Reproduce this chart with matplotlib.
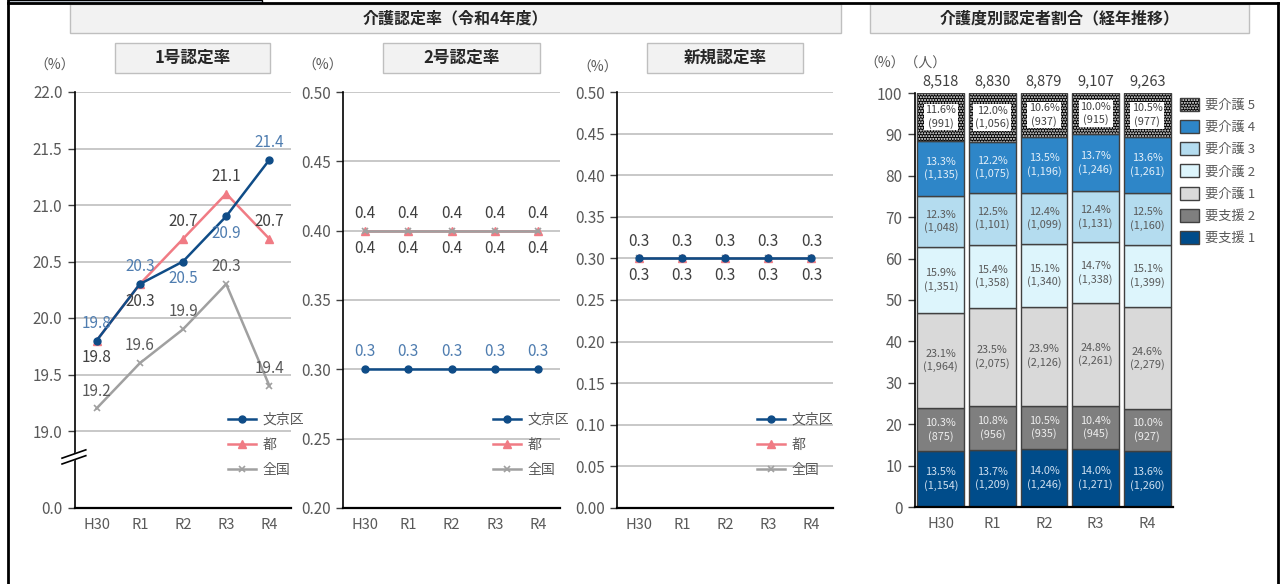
import matplotlib
matplotlib.use('Agg')
import matplotlib.pyplot as plt
from matplotlib.patches import Rectangle, Patch
from matplotlib.lines import Line2D
from matplotlib.ticker import FixedLocator, FixedFormatter, MultipleLocator, FormatStrFormatter

plt.rcParams['font.family'] = ['Noto Sans CJK JP', 'DejaVu Sans']

# ---------------- data ----------------
years = ['H30', 'R1', 'R2', 'R3', 'R4']
series_names = ['文京区', '都', '全国']

rate1_bunkyo = [19.8, 20.3, 20.5, 20.9, 21.4]
rate1_tokyo = [19.8, 20.3, 20.7, 21.1, 20.7]
rate1_japan = [19.2, 19.6, 19.9, 20.3, 19.4]

rate2_bunkyo = [0.3, 0.3, 0.3, 0.3, 0.3]
rate2_tokyo = [0.4, 0.4, 0.4, 0.4, 0.4]
rate2_japan = [0.4, 0.4, 0.4, 0.4, 0.4]

new_bunkyo = [0.3, 0.3, 0.3, 0.3, 0.3]
new_tokyo = [0.3, 0.3, 0.3, 0.3, 0.3]
new_japan = [0.3, 0.3, 0.3, 0.3, 0.3]

y1_ticks = [19.0, 19.5, 20.0, 20.5, 21.0, 21.5, 22.0]

levels = ['要支援 1', '要支援 2', '要介護 1', '要介護 2', '要介護 3', '要介護 4', '要介護 5']
pct_shien1 = [13.5, 13.7, 14.0, 14.0, 13.6]
pct_shien2 = [10.3, 10.8, 10.5, 10.4, 10.0]
pct_kaigo1 = [23.1, 23.5, 23.9, 24.8, 24.6]
pct_kaigo2 = [15.9, 15.4, 15.1, 14.7, 15.1]
pct_kaigo3 = [12.3, 12.5, 12.4, 12.4, 12.5]
pct_kaigo4 = [13.3, 12.2, 13.5, 13.7, 13.6]
pct_kaigo5 = [11.6, 12.0, 10.6, 10.0, 10.5]

cnt_shien1 = [1154, 1209, 1246, 1271, 1260]
cnt_shien2 = [875, 956, 935, 945, 927]
cnt_kaigo1 = [1964, 2075, 2126, 2261, 2279]
cnt_kaigo2 = [1351, 1358, 1340, 1338, 1399]
cnt_kaigo3 = [1048, 1101, 1099, 1131, 1160]
cnt_kaigo4 = [1135, 1075, 1196, 1246, 1261]
cnt_kaigo5 = [991, 1056, 937, 915, 977]

totals = [8518, 8830, 8879, 9107, 9263]

# ---------------- styles ----------------
W, H = 1282, 584
fig = plt.figure(figsize=(W / 100, H / 100), dpi=100)
fig.patch.set_facecolor('white')

TXT = '#595959'
DARK = '#404040'
BLUE = '#0F4C87'
PINK = '#F07B84'
GREY = '#A0A0A0'
BLUE_LBL = '#4F7DB0'


def fx(x):
    return x / W


def fy(y):
    return 1 - y / H


def add_axes_px(l, r, t, b):
    return fig.add_axes([fx(l), fy(b), (r - l) / W, (b - t) / H])


def box_px(x0, x1, y0, y1, text, fs=11.5):
    fig.add_artist(Rectangle((fx(x0), fy(y1)), (x1 - x0) / W, (y1 - y0) / H,
                             transform=fig.transFigure, facecolor='#F2F2F2',
                             edgecolor='#BFBFBF', lw=1))
    fig.text(fx((x0 + x1) / 2), fy((y0 + y1) / 2), text, ha='center', va='center',
             fontsize=fs, fontweight='bold', color='#262626')


# frame
fig.add_artist(Line2D([fx(8), fx(8)], [0, 1], color='black', lw=2, transform=fig.transFigure))
fig.add_artist(Line2D([fx(1278), fx(1278)], [0, fy(3)], color='black', lw=2, transform=fig.transFigure))
fig.add_artist(Line2D([fx(8), fx(1278)], [fy(3), fy(3)], color='black', lw=2, transform=fig.transFigure))
fig.add_artist(Rectangle((fx(8), fy(3)), fx(254), 3 / H, transform=fig.transFigure,
                         facecolor='#DCE6F2', edgecolor='black', lw=1))

box_px(70, 841, 4, 33, '介護認定率（令和4年度）')
box_px(870, 1249, 4, 33, '介護度別認定者割合（経年推移）')
box_px(115, 270, 43, 73, '1号認定率', fs=12)
box_px(383, 540, 43, 73, '2号認定率', fs=12)
box_px(647, 803, 43, 73, '新規認定率', fs=12)

for (x, y, t) in [(55, 66, '（%）'), (323, 66, '（%）'), (598, 68, '（%）'), (905, 64, '（%）（人）')]:
    fig.text(fx(x), fy(y), t, ha='center', va='center', fontsize=10, color=TXT)


def style_line_ax(ax):
    for s in ['top', 'right']:
        ax.spines[s].set_visible(False)
    ax.spines['left'].set_color('black')
    ax.spines['left'].set_linewidth(1.2)
    ax.spines['bottom'].set_color('black')
    ax.spines['bottom'].set_linewidth(1.6)
    ax.set_xlim(-0.5, 4.5)
    ax.set_xticks(range(len(years)))
    ax.set_xticklabels(years)
    ax.tick_params(axis='x', length=0, pad=7, labelsize=10.5, labelcolor=TXT)
    ax.tick_params(axis='y', length=5, width=1, color=DARK, labelsize=11, labelcolor=TXT, pad=4)
    ax.yaxis.grid(True, color='#BFBFBF', lw=1.2)
    ax.set_axisbelow(True)


def plot_series(ax, b, t, j):
    x = list(range(len(years)))
    lb, = ax.plot(x, b, color=BLUE, lw=1.8, marker='o', ms=5, label=series_names[0], zorder=4)
    lt, = ax.plot(x, t, color=PINK, lw=1.8, marker='^', ms=6, label=series_names[1], zorder=3)
    lj, = ax.plot(x, j, color=GREY, lw=1.8, marker='x', ms=5, mew=1.2, label=series_names[2], zorder=3)
    return [lb, lt, lj]


def label(ax, x, y, txt, color, up=True, off=12.5):
    ax.annotate(txt, (x, y), xytext=(0, off if up else -off), textcoords='offset points',
                ha='center', va='center', fontsize=11, color=color, zorder=6)


def add_legend(ax, handles, ax_x, ax_y):
    ax.legend(handles=handles, loc='upper left', bbox_to_anchor=(ax_x, ax_y), frameon=False,
              fontsize=10, labelcolor=TXT, handlelength=2.0, handletextpad=0.5,
              borderpad=0, borderaxespad=0, labelspacing=0.8)


# ---------------- chart 1 ----------------
ax1 = add_axes_px(75, 291, 92, 508)
style_line_ax(ax1)
ybot = 19.0 - (508 - 431) / (431 - 92) * 3.0
ax1.set_ylim(ybot, 22.0)
ax1.yaxis.set_major_locator(FixedLocator([ybot] + y1_ticks))
ax1.yaxis.set_major_formatter(FixedFormatter(['0.0'] + ['%.1f' % v for v in y1_ticks]))
h1 = plot_series(ax1, rate1_bunkyo, rate1_tokyo, rate1_japan)
b_up = [True, True, False, False, True]
t_up = [False, False, True, True, True]
for i in range(5):
    label(ax1, i, rate1_bunkyo[i], '%.1f' % rate1_bunkyo[i], BLUE_LBL, b_up[i])
    label(ax1, i, rate1_tokyo[i], '%.1f' % rate1_tokyo[i], DARK, t_up[i])
    label(ax1, i, rate1_japan[i], '%.1f' % rate1_japan[i], TXT, True)
add_legend(ax1, h1, (228 - 75) / 216, (508 - 413) / 416)
# axis break mark
yb = (508 - 459) / 416
ax1.fill([-0.06, 0.05, 0.05, -0.06], [yb - 0.012, yb + 0.008, yb + 0.022, yb + 0.002],
         transform=ax1.transAxes, color='white', clip_on=False, zorder=5)
for d in (0.0, 0.014):
    ax1.plot([-0.06, 0.05], [yb - 0.012 + d, yb + 0.008 + d], color='black', lw=1.2,
             transform=ax1.transAxes, clip_on=False, zorder=6)

# ---------------- chart 2 ----------------
ax2 = add_axes_px(343, 560, 92, 508)
style_line_ax(ax2)
ax2.set_ylim(0.20, 0.50)
ax2.yaxis.set_major_locator(MultipleLocator(0.05))
ax2.yaxis.set_major_formatter(FormatStrFormatter('%.2f'))
h2 = plot_series(ax2, rate2_bunkyo, rate2_tokyo, rate2_japan)
for i in range(5):
    label(ax2, i, rate2_bunkyo[i], '%.1f' % rate2_bunkyo[i], BLUE_LBL, True)
    label(ax2, i, rate2_tokyo[i], '%.1f' % rate2_tokyo[i], DARK, True)
    label(ax2, i, rate2_japan[i], '%.1f' % rate2_japan[i], DARK, False)
add_legend(ax2, h2, (493 - 343) / 217, (508 - 413) / 416)

# ---------------- chart 3 ----------------
ax3 = add_axes_px(617, 833, 92, 508)
style_line_ax(ax3)
ax3.set_ylim(0.0, 0.50)
ax3.yaxis.set_major_locator(MultipleLocator(0.05))
ax3.yaxis.set_major_formatter(FormatStrFormatter('%.2f'))
h3 = plot_series(ax3, new_bunkyo, new_tokyo, new_japan)
for i in range(5):
    label(ax3, i, new_tokyo[i], '%.1f' % new_tokyo[i], DARK, True)
    label(ax3, i, new_japan[i], '%.1f' % new_japan[i], DARK, False)
add_legend(ax3, h3, (757 - 617) / 216, (508 - 413) / 416)

# ---------------- chart 4 (stacked) ----------------
ax4 = add_axes_px(915, 1173, 93, 507)
for s in ['top', 'right']:
    ax4.spines[s].set_visible(False)
ax4.spines['left'].set_color('black')
ax4.spines['left'].set_linewidth(1.2)
ax4.spines['bottom'].set_color('black')
ax4.spines['bottom'].set_linewidth(1.6)
ax4.set_xlim(-0.5, 4.5)
ax4.set_ylim(0, 100)
ax4.yaxis.set_major_locator(MultipleLocator(10))
ax4.set_xticks(range(len(years)))
ax4.set_xticklabels(years)
ax4.tick_params(axis='x', length=0, pad=7, labelsize=10.5, labelcolor=TXT)
ax4.tick_params(axis='y', length=5, width=1, color=DARK, labelsize=11, labelcolor=TXT, pad=4)

pcts = [pct_shien1, pct_shien2, pct_kaigo1, pct_kaigo2, pct_kaigo3, pct_kaigo4, pct_kaigo5]
cnts = [cnt_shien1, cnt_shien2, cnt_kaigo1, cnt_kaigo2, cnt_kaigo3, cnt_kaigo4, cnt_kaigo5]
colors = ['#004C8A', '#7F7F7F', '#D9D9D9', '#DDF5FC', '#B4DCEF', '#2E86C8', '#000000']
lbl_colors = ['#D0E0F0', '#EEEEEE', TXT, TXT, TXT, '#E3EFF9', DARK]
x = list(range(len(years)))
bw = 0.91
bottom = [0.0] * 5
legend_handles = []
for k, lev in enumerate(levels):
    vals = pcts[k]
    if k == 6:
        ax4.bar(x, vals, bw, bottom=bottom, color='black', edgecolor='white', hatch='......', lw=0, zorder=2)
        ax4.bar(x, vals, bw, bottom=bottom, fill=False, edgecolor='#404040', lw=1, zorder=3)
        hnd = (Patch(facecolor='black', edgecolor='white', hatch='......', lw=0),
               Patch(fill=False, edgecolor='#404040', lw=1))
    else:
        ax4.bar(x, vals, bw, bottom=bottom, color=colors[k], edgecolor='#404040', lw=1, zorder=2)
        hnd = Patch(facecolor=colors[k], edgecolor='#404040', lw=1)
    legend_handles.append((hnd, lev))
    for i in range(5):
        yc = bottom[i] + vals[i] / 2
        txt = '%.1f%%\n(%s)' % (vals[i], format(cnts[k][i], ','))
        kw = {}
        if k == 6:
            kw['bbox'] = dict(boxstyle='square,pad=0.15', facecolor='white', edgecolor='none')
        ax4.text(i, yc, txt, ha='center', va='center', fontsize=7.8, color=lbl_colors[k],
                 linespacing=1.3, zorder=5, **kw)
    bottom = [bottom[i] + vals[i] for i in range(5)]

for i in range(5):
    ax4.annotate(format(totals[i], ','), (i, 100), xytext=(0, 8.5), textcoords='offset points',
                 ha='center', va='center', fontsize=10.5, color=DARK, annotation_clip=False)

legend_handles = legend_handles[::-1]
ax4.legend([h for h, _ in legend_handles], [l for _, l in legend_handles],
           loc='upper left', bbox_to_anchor=(fx(1180), fy(98)), bbox_transform=fig.transFigure,
           frameon=False, fontsize=9.5, labelcolor=TXT, handlelength=1.42, handleheight=1.14,
           handletextpad=0.45, borderpad=0, borderaxespad=0, labelspacing=0.62)

fig.savefig('out.png', dpi=100)
